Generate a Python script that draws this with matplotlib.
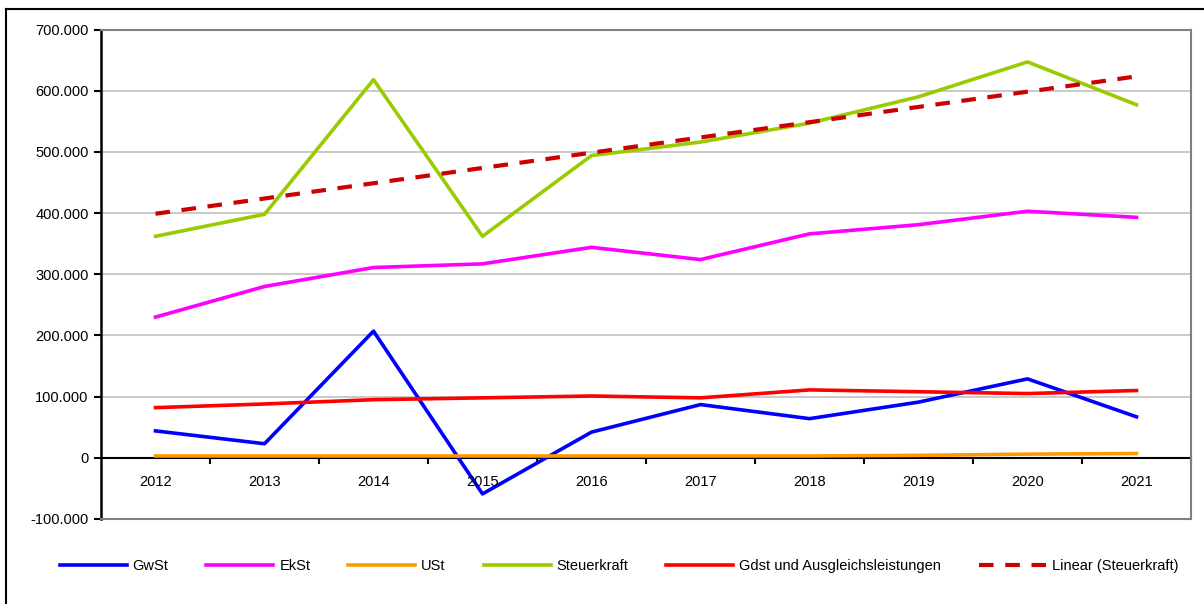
import numpy as np
import matplotlib.pyplot as plt
from matplotlib.lines import Line2D
from matplotlib.ticker import FuncFormatter

plt.rcParams['font.family'] = ['Liberation Sans', 'DejaVu Sans']

years = ["2012", "2013", "2014", "2015", "2016", "2017", "2018", "2019", "2020", "2021"]
gwst = [44000, 23000, 207000, -59000, 42000, 87000, 64000, 91000, 129000, 67000]
ekst = [230000, 280000, 311000, 317000, 344000, 324000, 366000, 381000, 403000, 393000]
ust = [3000, 3000, 3000, 3000, 3000, 3000, 3000, 4000, 6000, 7000]
steuerkraft = [362000, 398000, 618000, 362000, 494000, 516000, 547000, 590000, 647000, 577000]
gdst = [82000, 88000, 95000, 98000, 101000, 98000, 111000, 108000, 105000, 110000]

x = np.arange(len(years))
coef = np.polyfit(x, steuerkraft, 1)
trend = np.polyval(coef, x)

W, H = 1204, 604
fs = 10.5
fig = plt.figure(figsize=(W / 100, H / 100), dpi=100)
ax = fig.add_axes([101 / W, 1 - 519 / H, 1090 / W, (519 - 29.5) / H])

lw = 2.6
ax.plot(x, gwst, color="#0000ff", lw=lw, label="GwSt", zorder=3)
ax.plot(x, ekst, color="#ff00ff", lw=lw, label="EkSt", zorder=3)
ax.plot(x, ust, color="#ff9900", lw=lw, label="USt", zorder=3)
ax.plot(x, steuerkraft, color="#99cc00", lw=lw, label="Steuerkraft", zorder=3)
ax.plot(x, gdst, color="#ff0000", lw=lw, label="Gdst und Ausgleichsleistungen", zorder=3)
ax.plot(x, trend, color="#cc0000", lw=3, ls=(0, (3.5, 2.8)), label="Linear (Steuerkraft)", zorder=3)

ax.set_xlim(-0.5, 9.5)
ax.set_ylim(-100000, 700000)
ax.set_yticks(np.arange(-100000, 700001, 100000))
ax.yaxis.set_major_formatter(FuncFormatter(lambda v, p: f"{int(v):,}".replace(",", ".")))
ax.yaxis.grid(True, color="#c0c0c0", lw=1.2, zorder=0)
ax.set_axisbelow(True)

for s in ["top", "right", "bottom"]:
    ax.spines[s].set_color("#808080")
    ax.spines[s].set_linewidth(1.5)
ax.spines["left"].set_color("black")
ax.spines["left"].set_linewidth(1.8)

# x axis at zero with category boundary ticks
ax.axhline(0, color="black", lw=1.5, zorder=2)
ax.set_xticks([])
for b in np.arange(0.5, 10, 1.0):
    ax.plot([b, b], [0, -8000], color="black", lw=1.5, clip_on=False, zorder=2)
for i, yr in enumerate(years):
    ax.text(i, -40000, yr, ha="center", va="center", fontsize=fs)

ax.tick_params(axis="y", length=5, width=1.5, labelsize=fs, pad=4, direction="out")

handles, labels = ax.get_legend_handles_labels()
fig.legend(handles, labels, loc="center", bbox_to_anchor=(619 / W, 1 - 566 / H),
           ncol=6, frameon=False, fontsize=fs, handlelength=4.6, handletextpad=0.4,
           columnspacing=2.6)

# outer border (left and top visible)
fig.add_artist(Line2D([6 / W, 6 / W], [0, 1 - 9 / H], color="black", lw=1.5))
fig.add_artist(Line2D([6 / W, 1], [1 - 9 / H, 1 - 9 / H], color="black", lw=1.5))

fig.savefig("out.png", dpi=100)
